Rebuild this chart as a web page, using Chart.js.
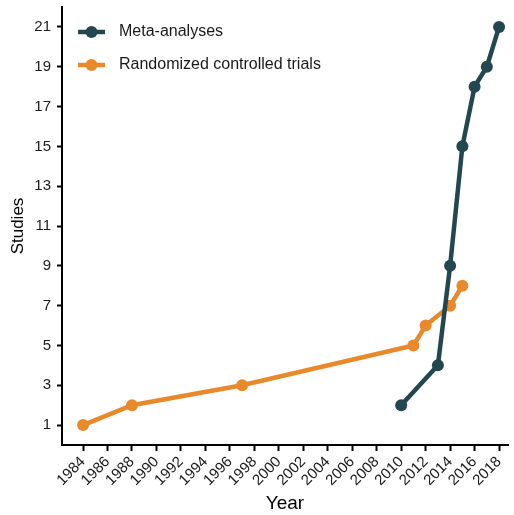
<!DOCTYPE html>
<html>
<head>
<meta charset="utf-8">
<script src="https://cdn.jsdelivr.net/npm/chart.js@4/dist/chart.umd.min.js"></script>
<style>
  html, body { margin: 0; padding: 0; background: #fff; }
  #wrap { width: 514px; height: 515px; }
</style>
</head>
<body>
<div id="wrap"><canvas id="c" width="514" height="515"></canvas></div>
<script>
// Cumulative number of studies per year
const metaYears = [2010, 2013, 2014, 2015, 2016, 2017, 2018];
const metaCounts = [2, 4, 9, 15, 18, 19, 21];
const rctYears = [1984, 1988, 1997, 2011, 2012, 2014, 2015];
const rctCounts = [1, 2, 3, 5, 6, 7, 8];
const yearTicks = [1984, 1986, 1988, 1990, 1992, 1994, 1996, 1998, 2000, 2002,
                   2004, 2006, 2008, 2010, 2012, 2014, 2016, 2018];
const studyTicks = [1, 3, 5, 7, 9, 11, 13, 15, 17, 19, 21];

const META_COLOR = '#24464f';
const RCT_COLOR = '#e8892b';
const FONT = '"Liberation Sans", Arial, sans-serif';

const toPoints = (xs, ys) => xs.map((x, i) => ({ x: x, y: ys[i] }));

// Legend drawn inside the top-left of the plot panel
const insideLegend = {
  id: 'insideLegend',
  afterDraw(chart) {
    const ctx = chart.ctx;
    const area = chart.chartArea;
    const x0 = area.left + 16;
    let y = area.top + 25;
    ctx.save();
    chart.data.datasets.forEach(ds => {
      ctx.strokeStyle = ds.borderColor;
      ctx.lineWidth = 4.5;
      ctx.beginPath();
      ctx.moveTo(x0, y);
      ctx.lineTo(x0 + 27, y);
      ctx.stroke();
      ctx.fillStyle = ds.borderColor;
      ctx.beginPath();
      ctx.arc(x0 + 13.5, y, 6, 0, Math.PI * 2);
      ctx.fill();
      ctx.fillStyle = '#1a1a1a';
      ctx.font = '16px ' + FONT;
      ctx.textBaseline = 'middle';
      ctx.textAlign = 'left';
      ctx.fillText(ds.label, x0 + 41, y);
      y += 33;
    });
    ctx.restore();
  }
};

new Chart(document.getElementById('c'), {
  type: 'line',
  data: {
    datasets: [
      {
        label: 'Meta-analyses',
        data: toPoints(metaYears, metaCounts),
        borderColor: META_COLOR,
        backgroundColor: META_COLOR,
        borderWidth: 4.5,
        pointRadius: 6,
        pointBorderWidth: 0,
        pointHoverRadius: 6,
        tension: 0
      },
      {
        label: 'Randomized controlled trials',
        data: toPoints(rctYears, rctCounts),
        borderColor: RCT_COLOR,
        backgroundColor: RCT_COLOR,
        borderWidth: 4.5,
        pointRadius: 6,
        pointBorderWidth: 0,
        pointHoverRadius: 6,
        tension: 0
      }
    ]
  },
  options: {
    responsive: false,
    animation: false,
    layout: { padding: { top: 7, right: 1, left: 0, bottom: 0 } },
    plugins: {
      legend: { display: false },
      tooltip: { enabled: false }
    },
    scales: {
      x: {
        type: 'linear',
        min: 1982.28,
        max: 2018.73,
        afterBuildTicks(scale) {
          scale.ticks = yearTicks.map(v => ({ value: v }));
        },
        afterFit(scale) {
          scale.height = 70;
          scale.paddingRight = 0;
        },
        ticks: {
          autoSkip: false,
          minRotation: 45,
          maxRotation: 45,
          color: '#1a1a1a',
          font: { family: FONT, size: 15 },
          padding: 2,
          callback: v => String(v)
        },
        grid: {
          drawOnChartArea: false,
          drawTicks: true,
          tickLength: 6,
          tickWidth: 2,
          tickColor: '#000'
        },
        border: { display: true, color: '#000', width: 2 },
        title: {
          display: true,
          text: 'Year',
          color: '#000',
          font: { family: FONT, size: 19 },
          padding: { top: 0, bottom: 0 }
        }
      },
      y: {
        type: 'linear',
        min: 0,
        max: 22,
        afterBuildTicks(scale) {
          scale.ticks = studyTicks.map(v => ({ value: v }));
        },
        afterFit(scale) {
          scale.width = 62;
          scale.paddingTop = 0;
          scale.paddingBottom = 0;
        },
        ticks: {
          color: '#1a1a1a',
          font: { family: FONT, size: 15 },
          padding: 6
        },
        grid: {
          drawOnChartArea: false,
          drawTicks: true,
          tickLength: 5,
          tickWidth: 2,
          tickColor: '#000'
        },
        border: { display: true, color: '#000', width: 2 },
        title: {
          display: true,
          text: 'Studies',
          color: '#000',
          font: { family: FONT, size: 17 },
          padding: { top: 8, bottom: 0 }
        }
      }
    }
  },
  plugins: [insideLegend]
});
</script>
</body>
</html>
